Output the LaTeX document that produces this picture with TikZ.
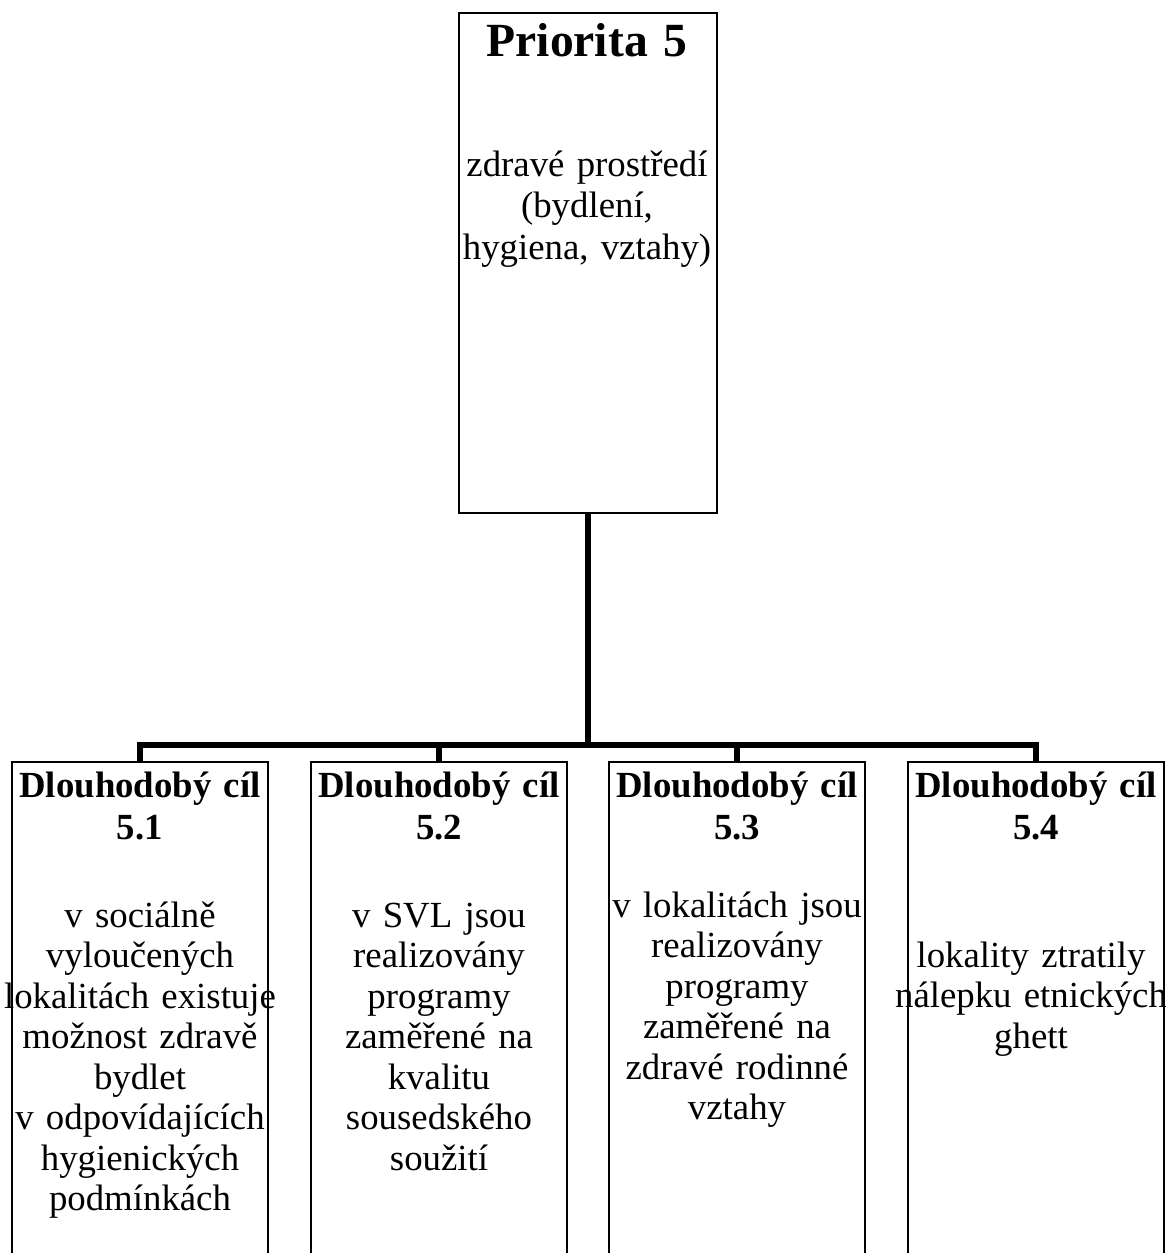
\documentclass[tikz,border=0pt]{standalone}
\usepackage{fontspec}
\setmainfont{Liberation Serif}
\begin{document}
\begin{tikzpicture}[x=1pt,y=-1pt,
  box/.style={draw, line width=2pt, inner sep=0pt, anchor=north west},
  goal/.style={box, minimum width=256pt, minimum height=520pt},
  link/.style={line width=6pt},
  txt/.style={anchor=base, inner sep=0pt, text width=330pt, align=center,
    font=\fontsize{36.8}{40.5}\selectfont},
  head/.style={txt, font=\fontsize{36.8}{42}\selectfont\bfseries},
  title/.style={txt, font=\fontsize{47.6}{55}\selectfont\bfseries},
]
\useasboundingbox (0,0) rectangle (1165,1253);
\fill[white] (0,0) rectangle (1165,1253);
\clip (0,0) rectangle (1165,1253);

% priority box
\node[box, minimum width=258pt, minimum height=500pt] (top) at (458,12) {};
\node[title] (ttl) at (587,56) {Priorita 5};
\node[txt, font=\fontsize{36.8}{41.5}\selectfont] (tdesc) at (587,176)
  {zdravé prostředí\\(bydlení,\\hygiena, vztahy)};

% long-term goals
\node[goal] (g1) at (11,761) {};
\node[goal] (g2) at (310,761) {};
\node[goal] (g3) at (608,761) {};
\node[goal] (g4) at (907,761) {};

% org-chart connectors
\coordinate (bar) at (587,745);
\foreach \g in {g1,g2,g3,g4}
  \draw[link] (top.south) -- (top.south |- bar) -| (\g.north);

% goal headings
\node[head] (h1) at (g1.north |- 0,797) {Dlouhodobý cíl\\5.1};
\node[head] (h2) at (g2.north |- 0,797) {Dlouhodobý cíl\\5.2};
\node[head] (h3) at (g3.north |- 0,797) {Dlouhodobý cíl\\5.3};
\node[head] (h4) at (g4.north |- 0,797) {Dlouhodobý cíl\\5.4};

% goal descriptions
\node[txt] (d1) at (g1.north |- 0,927)
  {v sociálně\\vyloučených\\lokalitách existuje\\možnost zdravě\\bydlet\\v odpovídajících\\hygienických\\podmínkách};
\node[txt] (d2) at (g2.north |- 0,927)
  {v SVL jsou\\realizovány\\programy\\zaměřené na\\kvalitu\\sousedského\\soužití};
\node[txt] (d3) at (g3.north |- 0,917)
  {v lokalitách jsou\\realizovány\\programy\\zaměřené na\\zdravé rodinné\\vztahy};
\node[txt] (d4) at ([xshift=-5pt]g4.north |- 0,967)
  {lokality ztratily\\nálepku etnických\\ghett};
\end{tikzpicture}
\end{document}
